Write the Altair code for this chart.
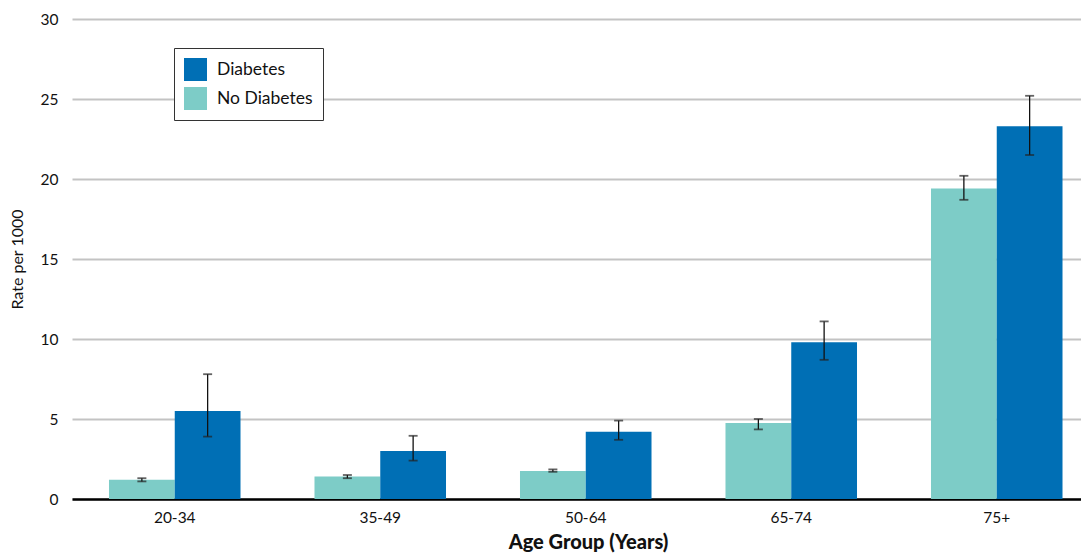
import altair as alt
import pandas as pd

ages = ["20-34", "35-49", "50-64", "65-74", "75+"]
diabetes = [5.5, 3.0, 4.2, 9.8, 23.3]
diabetes_lo = [3.9, 2.4, 3.7, 8.7, 21.5]
diabetes_hi = [7.8, 3.95, 4.9, 11.1, 25.2]
no_diabetes = [1.2, 1.4, 1.75, 4.75, 19.4]
no_diabetes_lo = [1.1, 1.3, 1.7, 4.35, 18.7]
no_diabetes_hi = [1.3, 1.5, 1.85, 5.0, 20.2]

groups = ["Diabetes", "No Diabetes"]
rows = []
for i, a in enumerate(ages):
    rows.append({"age": a, "group": "No Diabetes", "rate": no_diabetes[i],
                 "lo": no_diabetes_lo[i], "hi": no_diabetes_hi[i]})
    rows.append({"age": a, "group": "Diabetes", "rate": diabetes[i],
                 "lo": diabetes_lo[i], "hi": diabetes_hi[i]})
df = pd.DataFrame(rows)

FONT = "Lato"
xscale = alt.Scale(domain=ages, paddingInner=0.36, paddingOuter=0.18, range=[0, 1027.5])
xoff = alt.XOffset("group:N", sort=["No Diabetes", "Diabetes"],
                   scale=alt.Scale(paddingInner=0, paddingOuter=0))

base = alt.Chart(df)

bars = base.mark_bar().encode(
    x=alt.X("age:N", scale=xscale, sort=ages,
            axis=alt.Axis(title="Age Group (Years)", labelAngle=0, ticks=False,
                          domainColor="black", domainWidth=2.5, labelFontSize=15.5,
                          labelPadding=11, titleFontSize=20, titleFontWeight=900,
                          titlePadding=7, labelColor="#111", titleColor="#111",
                          titleX=516, titleAnchor="start", titleAlign="center")),
    xOffset=xoff,
    y=alt.Y("rate:Q", scale=alt.Scale(domain=[0, 30]),
            axis=alt.Axis(title="Rate per 1000", values=[0, 5, 10, 15, 20, 25, 30],
                          domain=False, ticks=False, gridColor="#c3c3c3", gridWidth=2,
                          labelFontSize=15.5, labelPadding=14, titleFontSize=16,
                          titleFontWeight="normal", titlePadding=15,
                          labelColor="#111", titleColor="#111")),
    color=alt.Color("group:N",
                    scale=alt.Scale(domain=groups, range=["#006fb5", "#7dccc7"]),
                    legend=alt.Legend(title=None, orient="none", legendX=102, legendY=29,
                                      strokeColor="#333", padding=10, symbolType="square",
                                      symbolSize=529, symbolStrokeWidth=0,
                                      labelFontSize=17.5, rowPadding=6, labelOffset=10,
                                      fillColor="white", labelColor="#111")),
)

rules = base.mark_rule(color="#111", strokeWidth=1.3).encode(
    x=alt.X("age:N", scale=xscale, sort=ages),
    xOffset=xoff,
    y="lo:Q",
    y2="hi:Q",
)

cap_hi = base.mark_tick(color="#222", size=9, thickness=1.8).encode(
    x=alt.X("age:N", scale=xscale, sort=ages),
    xOffset=xoff,
    y="hi:Q",
)
cap_lo = base.mark_tick(color="#222", size=9, thickness=1.8).encode(
    x=alt.X("age:N", scale=xscale, sort=ages),
    xOffset=xoff,
    y="lo:Q",
)

chart = alt.layer(bars, rules, cap_hi, cap_lo).properties(
    width=1009, height=480,
    autosize=alt.AutoSizeParams(type="none"),
    padding={"left": 64, "top": 11, "right": 0, "bottom": 55},
).configure(font=FONT).configure_view(stroke=None)

chart.save("out.html", embed_options={"renderer": "svg", "actions": False})
